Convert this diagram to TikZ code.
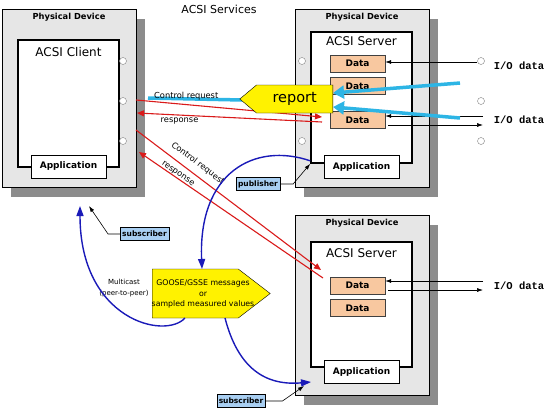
\documentclass[tikz,border=0pt]{standalone}
\usepackage{fontspec}
\setmainfont{DejaVu Sans}
\setsansfont{DejaVu Sans}
\newfontfamily\iofont{Liberation Mono}
\usetikzlibrary{positioning,shapes.symbols,shadows,arrows.meta}
\definecolor{devgray}{HTML}{E6E6E6}
\definecolor{shadowgray}{HTML}{8C8C8C}
\definecolor{dataorange}{HTML}{F8C8A0}
\definecolor{tagblue}{HTML}{A9CFF2}
\definecolor{pushcyan}{HTML}{2DB5E5}
\definecolor{reqred}{HTML}{D91A1A}
\definecolor{mcblue}{HTML}{1A1AB8}

\begin{document}
\begin{tikzpicture}[x=1pt, y=-1pt, font=\sffamily,
    device/.style={draw=black, fill=devgray, minimum width=134pt, minimum height=178pt,
        drop shadow={shadow xshift=9pt, shadow yshift=-10pt, fill=shadowgray, opacity=1}},
    devtitle/.style={font=\sffamily\bfseries\fontsize{8.3}{9}\selectfont},
    inner/.style={draw=black, line width=1.6pt, fill=white, minimum width=101pt, minimum height=127pt},
    innertitle/.style={font=\sffamily\fontsize{12}{13}\selectfont},
    app/.style={draw=black, fill=white, minimum width=75pt, minimum height=23pt,
        font=\sffamily\bfseries\fontsize{9}{10}\selectfont},
    databox/.style={draw=black!75, fill=dataorange, minimum width=55pt, minimum height=17pt,
        font=\sffamily\bfseries\fontsize{9}{10}\selectfont},
    port/.style={circle, draw=gray, fill=white, minimum size=7pt, inner sep=0pt},
    tag/.style={draw=black, fill=tagblue, inner sep=2pt, minimum height=13pt,
        font=\sffamily\bfseries\fontsize{7.5}{8}\selectfont},
    iotext/.style={font=\iofont\bfseries\fontsize{10.5}{11}\selectfont},
    lbl/.style={font=\sffamily\fontsize{8.3}{9}\selectfont, inner sep=1pt},
    req/.style={draw=reqred, line width=1.1pt, -{Triangle[length=7pt,width=6pt]}},
    mcast/.style={draw=mcblue, line width=1.4pt, -{Triangle[length=10pt,width=7pt]}},
    push/.style={draw=pushcyan, line width=3.5pt, -{Triangle[length=11pt,width=13pt]}},
    io/.style={draw=black, line width=0.6pt, -{Latex[length=6pt,width=4pt]}},
    lead/.style={draw=black, line width=0.6pt, -{Latex[length=6pt,width=4pt]}}]
    \useasboundingbox (0,0) rectangle (553,410);

    % Title
    \node[font=\sffamily\fontsize{11}{12}\selectfont] (title) at (219,9) {ACSI Services};

    % Client device
    \node[device] (pd1) at (69,98) {};
    \node[devtitle, below=1pt of pd1.north] (pdt1) {Physical Device};
    \node[inner] (cl) at (68.5,103.5) {};
    \node[innertitle, below=5pt of cl.north] (clt) {ACSI Client};
    \node[app] (app1) at (68.5,166.5) {Application};
    \node[port] (cp1) at (123,61) {};
    \node[port] (cp2) at (123,101) {};
    \node[port] (cp3) at (123,141) {};

    % Upper server device
    \node[device] (pd2) at (362,98) {};
    \node[devtitle, below=1pt of pd2.north] (pdt2) {Physical Device};
    \node[inner, minimum height=131pt] (sv1) at (361.5,97.5) {};
    \node[innertitle, below=2pt of sv1.north] (svt1) {ACSI Server};
    \node[databox] (d1) at (357.5,63.5) {Data};
    \node[databox, below=5pt of d1] (d2) {Data};
    \node[databox] (d3) at (357.5,120) {Data};
    \node[app] (app2) at (361.5,167) {Application};
    \node[port] (sp1) at (302,61) {};
    \node[port] (sp2) at (302,141) {};
    \node[port] (sp3) at (481,61) {};
    \node[port] (sp4) at (481,101) {};
    \node[port] (sp5) at (481,141) {};

    % Lower server device
    \node[device, minimum height=180pt] (pd3) at (362,305) {};
    \node[devtitle, below=1pt of pd3.north] (pdt3) {Physical Device};
    \node[inner, minimum height=125pt] (sv2) at (361.5,304.5) {};
    \node[innertitle, below=4pt of sv2.north] (svt2) {ACSI Server};
    \node[databox] (d4) at (357.5,285.5) {Data};
    \node[databox, below=5pt of d4] (d5) {Data};
    \node[app] (app3) at (361.5,372) {Application};

    % I/O data
    \coordinate (io1) at (477,62);
    \coordinate (io2) at (483,116);
    \coordinate (io3) at (483,125);
    \coordinate (io4) at (483,281);
    \coordinate (io5) at (483,290);
    \draw[io] (io1) -- (io1 -| d1.east);
    \draw[io] (io2) -- (io2 -| d3.east);
    \draw[io] ([xshift=3pt]io3 -| d3.east) -- (io3);
    \draw[io] (io4) -- (io4 -| d4.east);
    \draw[io] ([xshift=3pt]io5 -| d4.east) -- (io5);
    \node[iotext] (iol1) at (519,66) {I/O data};
    \node[iotext] (iol2) at (519,120) {I/O data};
    \node[iotext] (iol3) at (519,286) {I/O data};

    % Client/server requests
    \coordinate (q1) at (136,100);
    \coordinate (q2) at (322,117);
    \coordinate (r1) at (322,122);
    \coordinate (r2) at (137,113);
    \coordinate (q3) at (136,130);
    \coordinate (q4) at (321,270);
    \coordinate (r3) at (323,278);
    \coordinate (r4) at (139,152);
    \draw[pushcyan, line width=3.5pt] (148,98) -- (242,100);
    \draw[req] (q1) -- (q2) node[lbl, pos=0.27, above=3pt] {Control request};
    \draw[req] (r1) -- (r2) node[lbl, pos=0.77, below=1pt] {response};
    \draw[req] (q3) -- (q4) node[lbl, pos=0.3, sloped, above=5pt] {Control request};
    \draw[req] (r3) -- (r4) node[lbl, pos=0.8, sloped, anchor=south, inner sep=0pt] {response};

    % Report
    \node[signal, signal to=west, signal pointer angle=80, draw=black, fill=yellow,
          minimum width=93pt, minimum height=28pt, anchor=east,
          font=\sffamily\fontsize{14.5}{16}\selectfont] (report) at (333,99) {report};
    \coordinate (c1) at (460,83);
    \coordinate (c2) at (460,118);
    \draw[push] (c1) -- ([yshift=6pt]report.east);
    \draw[push] (c2) -- ([yshift=-8pt]report.east);

    % GOOSE messages
    \node[signal, signal to=east, signal pointer angle=75, draw=black, fill=yellow,
          minimum width=118pt, minimum height=49pt, anchor=west] (goose) at (152,293.5) {};
    \node[align=center, inner sep=0pt, font=\sffamily\fontsize{7.8}{10.5}\selectfont]
          (gtext) at (203,294) {GOOSE/GSSE messages\\or\\sampled measured values};
    \node[align=center, font=\sffamily\fontsize{7}{11}\selectfont] (mc) at (124,288)
          {Multicast\\(peer-to-peer)};

    % Publisher and subscribers
    \node[tag] (pub) at (258,184) {publisher};
    \node[tag] (sub1) at (144.5,234) {subscriber};
    \node[tag] (sub2) at (241,401) {subscriber};
    \coordinate (s1) at (89,206);
    \coordinate (s2) at (304,386);
    \coordinate (m1) at (80,206);
    \coordinate (m2) at (311,382);
    \draw[lead] (pub.east) -- ++(13,0) -- (sv1.south west);
    \draw[lead] (sub1.west) -- ++(-12,0) -- (s1);
    \draw[lead] (sub2.east) -- ++(17,0) -- (s2);
    \draw[mcast] ([yshift=3pt]sv1.south west) .. controls (255,142) and (198,172) .. ([shift={(50pt,24.5pt)}]goose.west);
    \draw[mcast] ([shift={(33pt,-24.5pt)}]goose.west) .. controls (165,340) and (80,320) .. (m1);
    \draw[mcast] ([shift={(73pt,-24.5pt)}]goose.west) .. controls (238,368) and (265,386) .. (m2);
\end{tikzpicture}
\end{document}
